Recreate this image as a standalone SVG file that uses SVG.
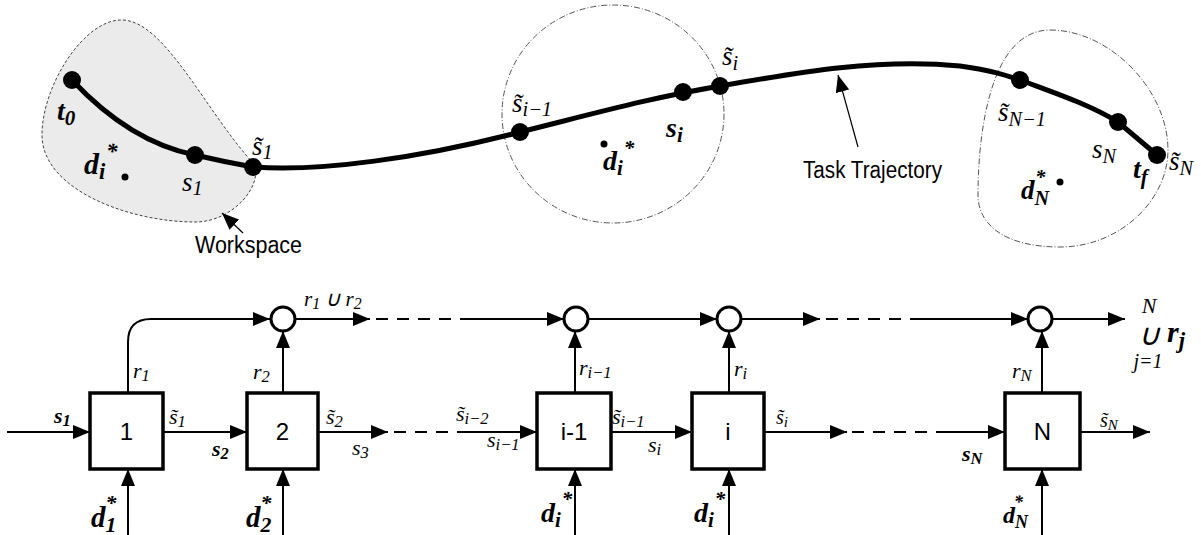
<svg xmlns="http://www.w3.org/2000/svg" width="1201" height="535" viewBox="0 0 1201 535">
<style>
.bg{fill:#fff}
.ln{stroke:#000;stroke-width:2;fill:none}
.thin{stroke:#000;stroke-width:1.2;fill:none}
.dash{stroke:#000;stroke-width:2;fill:none;stroke-dasharray:12 9}
.traj{stroke:#000;stroke-width:5;fill:none;stroke-linecap:round}
.dot{fill:#000}
.blk{fill:#fff;stroke:#000;stroke-width:3.5}
.sum{fill:#fff;stroke:#000;stroke-width:3}
.ws{fill:#ebebeb;stroke:#444;stroke-width:1;stroke-dasharray:3 2}
.reg{fill:none;stroke:#555;stroke-width:1;stroke-dasharray:6 2 1 2}
.m{font-family:"Liberation Serif",serif;font-style:italic}
.mb{font-family:"Liberation Serif",serif;font-style:italic;font-weight:bold}
.sans{font-family:"Liberation Sans",Arial,sans-serif}
.sub{font-size:75%}
</style>
<defs>
<marker id="ah" markerUnits="userSpaceOnUse" markerWidth="17" markerHeight="14" refX="17" refY="7" orient="auto"><path d="M0,0 L17,7 L0,14 Z" fill="#000"/></marker>
</defs>
<rect class="bg" x="0" y="0" width="1201" height="535"/>

<g id="workspace1">
<path class="ws" d="M123,20 C165,22 205,110 253,163 C265,182 235,222 195,222 C130,222 42,190 42,135 C42,85 85,18 123,20 Z"/>
</g>
<g id="workspace-i">
<ellipse class="reg" cx="613" cy="114" rx="111" ry="109"/>
</g>
<g id="workspaceN">
<path class="reg" d="M1050,30 C1110,30 1168,90 1168,150 C1168,200 1120,247 1060,247 C1005,247 978,225 978,195 C978,140 988,30 1050,30 Z"/>
</g>

<g id="trajectory">
<path class="traj" d="M72,80 Q130,142 195,155 Q225,162 253,167 C320,172 420,158 520,132 C600,112 650,98 720,86 C800,72 880,58 960,66 C990,70 1005,75 1020,80 C1060,95 1090,105 1118,122 L1157,155"/>
<circle class="dot" cx="72" cy="80" r="9"/>
<circle class="dot" cx="195" cy="155" r="9"/>
<circle class="dot" cx="253" cy="167" r="9"/>
<circle class="dot" cx="520" cy="132" r="9"/>
<circle class="dot" cx="683" cy="92" r="9"/>
<circle class="dot" cx="720" cy="86" r="9"/>
<circle class="dot" cx="1020" cy="80" r="9"/>
<circle class="dot" cx="1118" cy="122" r="9"/>
<circle class="dot" cx="1157" cy="155" r="9"/>
<circle class="dot" cx="125" cy="177" r="3.5"/>
<circle class="dot" cx="604" cy="144" r="3.5"/>
<circle class="dot" cx="1060" cy="182" r="3.5"/>
</g>

<g id="top-labels">
<text class="mb" x="57" y="120" font-size="28">t<tspan class="sub" dy="5">0</tspan></text>
<text class="mb" x="84" y="174" font-size="30">d<tspan class="sub" dy="5">i</tspan><tspan class="sub" dy="-20" dx="1">*</tspan></text>
<text class="m" x="182" y="191" font-size="27">s<tspan class="sub" dy="4">1</tspan></text>
<text class="m" x="252" y="155" font-size="27">s&#771;<tspan class="sub" dy="4">1</tspan></text>
<text class="m" x="512" y="112" font-size="27">s&#771;<tspan class="sub" dy="4">i−1</tspan></text>
<text class="mb" x="666" y="137" font-size="28">s<tspan class="sub" dy="5">i</tspan></text>
<text class="m" x="722" y="65" font-size="27">s&#771;<tspan class="sub" dy="5">i</tspan></text>
<text class="mb" x="603" y="170" font-size="28">d<tspan class="sub" dy="5">i</tspan><tspan class="sub" dy="-20" dx="1">*</tspan></text>
<text class="m" x="998" y="121" font-size="27">s&#771;<tspan class="sub" dy="5">N−1</tspan></text>
<text class="m" x="1092" y="158" font-size="27">s<tspan class="sub" dy="5">N</tspan></text>
<text class="mb" x="1133" y="178" font-size="28">t<tspan class="sub" dy="6">f</tspan></text>
<text class="m" x="1169" y="170" font-size="27">s&#771;<tspan class="sub" dy="5">N</tspan></text>
<text class="mb" x="1021" y="199" font-size="27">d<tspan class="sub" dy="6">N</tspan><tspan class="sub" dy="-21" dx="-14">*</tspan></text>
<text class="sans" x="803" y="178" font-size="23" textLength="139" lengthAdjust="spacingAndGlyphs">Task Trajectory</text>
<text class="sans" x="195" y="253" font-size="23" textLength="107" lengthAdjust="spacingAndGlyphs">Workspace</text>
</g>

<g id="top-arrows">
<line class="thin" x1="858" y1="147" x2="838" y2="75" marker-end="url(#ah)"/>
<line class="thin" x1="243" y1="233" x2="222" y2="213" marker-end="url(#ah)"/>
</g>

<g id="block1"><rect class="blk" x="90" y="393" width="73" height="76"/><text class="sans" x="126.5" y="440" font-size="24" text-anchor="middle">1</text></g>
<g id="block2"><rect class="blk" x="247" y="393" width="71" height="76"/><text class="sans" x="282.5" y="440" font-size="24" text-anchor="middle">2</text></g>
<g id="block-i-1"><rect class="blk" x="537" y="393" width="74" height="76"/><text class="sans" x="574" y="440" font-size="24" text-anchor="middle">i-1</text></g>
<g id="block-i"><rect class="blk" x="692" y="393" width="72" height="76"/><text class="sans" x="728" y="440" font-size="24" text-anchor="middle">i</text></g>
<g id="blockN"><rect class="blk" x="1005" y="393" width="75" height="76"/><text class="sans" x="1042.5" y="440" font-size="24" text-anchor="middle">N</text></g>

<g id="sum1"><circle class="sum" cx="283" cy="319" r="12"/></g>
<g id="sum-i-1"><circle class="sum" cx="576" cy="319" r="12"/></g>
<g id="sum-i"><circle class="sum" cx="729" cy="319" r="12"/></g>
<g id="sumN"><circle class="sum" cx="1040" cy="319" r="12"/></g>

<g id="connectors">
<line class="ln" x1="7" y1="432" x2="90" y2="432" marker-end="url(#ah)"/>
<line class="ln" x1="163" y1="432" x2="247" y2="432" marker-end="url(#ah)"/>
<line class="ln" x1="318" y1="432" x2="388" y2="432" marker-end="url(#ah)"/>
<line class="dash" x1="394" y1="432" x2="467" y2="432"/>
<line class="ln" x1="467" y1="432" x2="537" y2="432" marker-end="url(#ah)"/>
<line class="ln" x1="611" y1="432" x2="692" y2="432" marker-end="url(#ah)"/>
<line class="ln" x1="764" y1="432" x2="847" y2="432" marker-end="url(#ah)"/>
<line class="dash" x1="852" y1="432" x2="940" y2="432"/>
<line class="ln" x1="940" y1="432" x2="1005" y2="432" marker-end="url(#ah)"/>
<line class="ln" x1="1080" y1="432" x2="1150" y2="432" marker-end="url(#ah)"/>

<path class="ln" d="M128,393 L128,342 Q128,319 151,319 L270,319" marker-end="url(#ah)"/>
<line class="ln" x1="283" y1="393" x2="283" y2="331" marker-end="url(#ah)"/>
<line class="ln" x1="295" y1="319" x2="370" y2="319" marker-end="url(#ah)"/>
<line class="dash" x1="376" y1="319" x2="467" y2="319"/>
<line class="ln" x1="467" y1="319" x2="564" y2="319" marker-end="url(#ah)"/>
<line class="ln" x1="575" y1="393" x2="575" y2="331" marker-end="url(#ah)"/>
<line class="ln" x1="588" y1="319" x2="717" y2="319" marker-end="url(#ah)"/>
<line class="ln" x1="729" y1="393" x2="729" y2="331" marker-end="url(#ah)"/>
<line class="ln" x1="741" y1="319" x2="820" y2="319" marker-end="url(#ah)"/>
<line class="dash" x1="826" y1="319" x2="913" y2="319"/>
<line class="ln" x1="913" y1="319" x2="1028" y2="319" marker-end="url(#ah)"/>
<line class="ln" x1="1042" y1="393" x2="1042" y2="331" marker-end="url(#ah)"/>
<line class="ln" x1="1052" y1="319" x2="1125" y2="319" marker-end="url(#ah)"/>

<line class="ln" x1="128" y1="535" x2="128" y2="469" marker-end="url(#ah)"/>
<line class="ln" x1="283" y1="535" x2="283" y2="469" marker-end="url(#ah)"/>
<line class="ln" x1="575" y1="535" x2="575" y2="469" marker-end="url(#ah)"/>
<line class="ln" x1="729" y1="535" x2="729" y2="469" marker-end="url(#ah)"/>
<line class="ln" x1="1042" y1="535" x2="1042" y2="469" marker-end="url(#ah)"/>
</g>

<g id="bottom-labels">
<text class="mb" x="54" y="423" font-size="22">s<tspan class="sub" dy="3">1</tspan></text>
<text class="m" x="169" y="424" font-size="22">s&#771;<tspan class="sub" dy="3">1</tspan></text>
<text class="mb" x="212" y="456" font-size="22">s<tspan class="sub" dy="3">2</tspan></text>
<text class="m" x="326" y="424" font-size="22">s&#771;<tspan class="sub" dy="3">2</tspan></text>
<text class="m" x="352" y="455" font-size="22">s<tspan class="sub" dy="3">3</tspan></text>
<text class="m" x="133" y="378" font-size="22">r<tspan class="sub" dy="3">1</tspan></text>
<text class="m" x="253" y="379" font-size="22">r<tspan class="sub" dy="3">2</tspan></text>
<text class="m" x="304" y="306" font-size="21">r<tspan class="sub" dy="3">1</tspan><tspan dy="-3"> ∪ </tspan>r<tspan class="sub" dy="3">2</tspan></text>
<text class="m" x="456" y="421" font-size="22">s&#771;<tspan class="sub" dy="3">i−2</tspan></text>
<text class="m" x="487" y="447" font-size="22">s<tspan class="sub" dy="3">i−1</tspan></text>
<text class="m" x="612" y="424" font-size="22">s&#771;<tspan class="sub" dy="3">i−1</tspan></text>
<text class="m" x="648" y="452" font-size="22">s<tspan class="sub" dy="3">i</tspan></text>
<text class="m" x="776" y="424" font-size="20">s&#771;<tspan class="sub" dy="3">i</tspan></text>
<text class="m" x="579" y="375" font-size="22">r<tspan class="sub" dy="3">i−1</tspan></text>
<text class="m" x="734" y="376" font-size="22">r<tspan class="sub" dy="3">i</tspan></text>
<text class="mb" x="962" y="461" font-size="22">s<tspan class="sub" dy="3">N</tspan></text>
<text class="m" x="1100" y="427" font-size="20">s&#771;<tspan class="sub" dy="3">N</tspan></text>
<text class="m" x="1012" y="378" font-size="22">r<tspan class="sub" dy="3">N</tspan></text>
<text class="m" x="1149" y="313" font-size="22" text-anchor="middle">N</text>
<text class="m" x="1149" y="345" font-size="30" text-anchor="middle">∪</text>
<text class="mb" x="1167" y="342" font-size="30">r<tspan class="sub" dy="6">j</tspan></text>
<text class="m" x="1148" y="368" font-size="20" text-anchor="middle">j=1</text>
<text class="mb" x="91" y="527" font-size="29">d<tspan class="sub" dy="5">1</tspan><tspan class="sub" dy="-22" dx="-11">*</tspan></text>
<text class="mb" x="246" y="527" font-size="29">d<tspan class="sub" dy="5">2</tspan><tspan class="sub" dy="-22" dx="-11">*</tspan></text>
<text class="mb" x="541" y="522" font-size="28">d<tspan class="sub" dy="5">i</tspan><tspan class="sub" dy="-21" dx="1">*</tspan></text>
<text class="mb" x="694" y="522" font-size="28">d<tspan class="sub" dy="5">i</tspan><tspan class="sub" dy="-21" dx="1">*</tspan></text>
<text class="mb" x="1003" y="523" font-size="24">d<tspan class="sub" dy="5">N</tspan><tspan class="sub" dy="-20" dx="-14">*</tspan></text>
</g>
</svg>
